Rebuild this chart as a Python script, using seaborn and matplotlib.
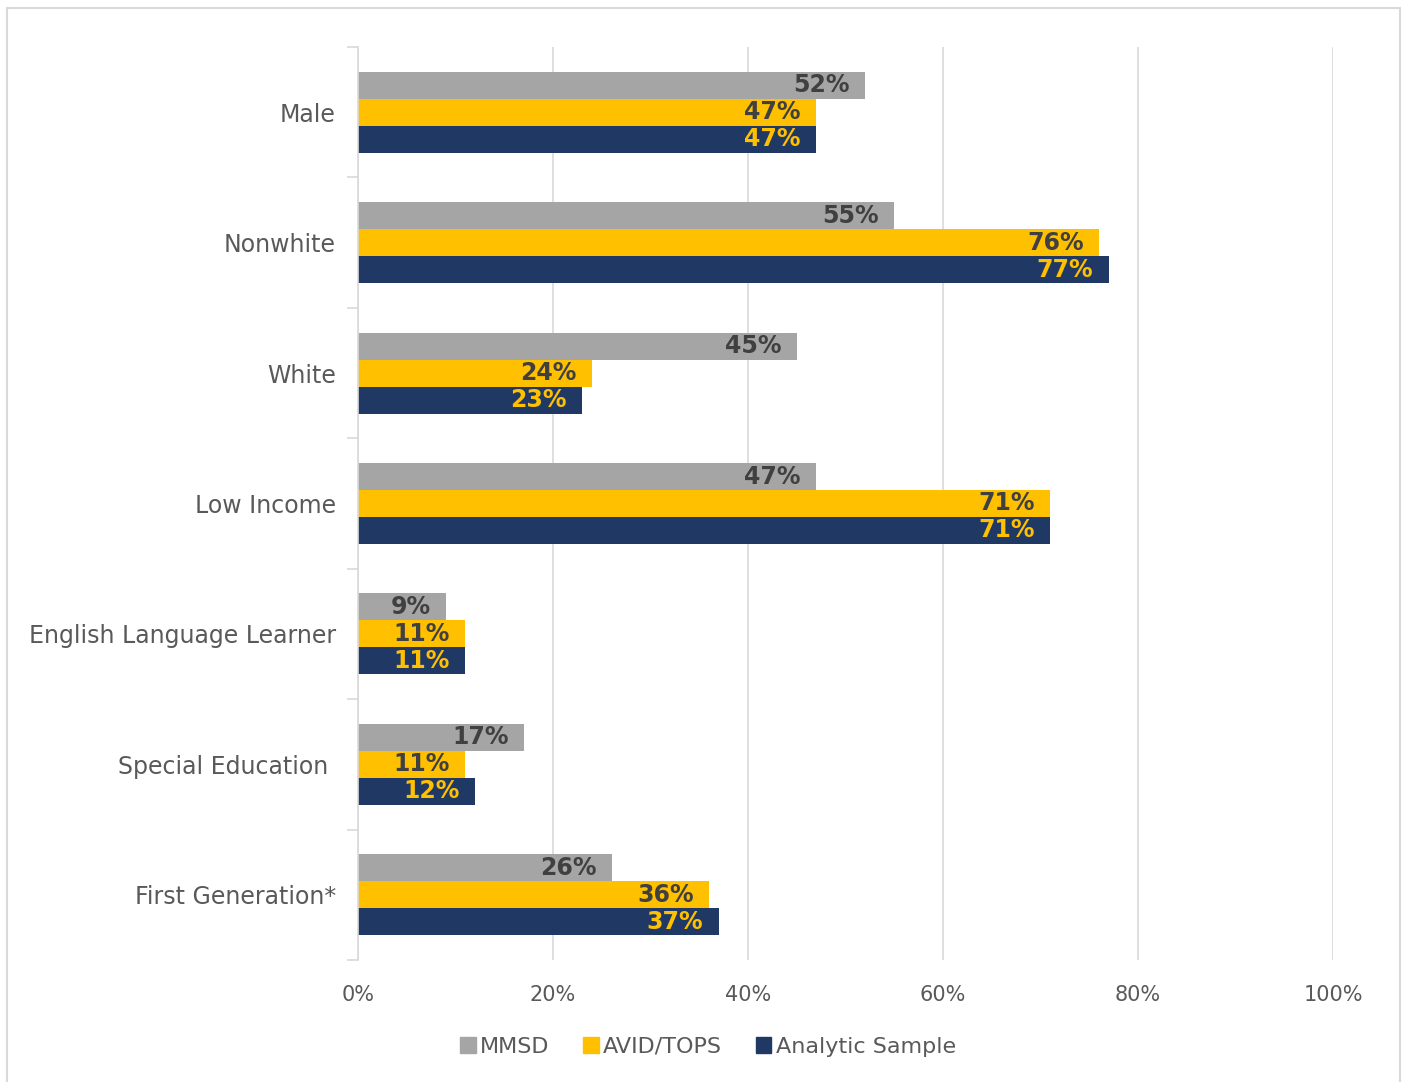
import matplotlib
matplotlib.use("Agg")
import matplotlib.pyplot as plt
import matplotlib.patches as mpatches
import seaborn as sns
import pandas as pd
import numpy as np

categories = ["Male", "Nonwhite", "White", "Low Income", "English Language Learner",
              "Special Education ", "First Generation*"]
series = ["MMSD", "AVID/TOPS", "Analytic Sample"]
mmsd = [52, 55, 45, 47, 9, 17, 26]
avid = [47, 76, 24, 71, 11, 11, 36]
analytic = [47, 77, 23, 71, 11, 12, 37]
x_ticks = [0, 20, 40, 60, 80, 100]

colors = ["#A5A5A5", "#FFC000", "#203864"]
label_colors = ["#404040", "#404040", "#FFC000"]

rows = []
for s, vals in zip(series, [mmsd, avid, analytic]):
    for c, v in zip(categories, vals):
        rows.append({"Category": c, "Series": s, "Value": v})
df = pd.DataFrame(rows)

sns.set_theme(style="white")
plt.rcParams["font.family"] = ["DejaVu Sans"]

fig = plt.figure(figsize=(14.08, 10.82), dpi=100)
ax = fig.add_axes([358 / 1408, 1 - 960 / 1082, (1333 - 358) / 1408, (960 - 47) / 1082])

sns.barplot(data=df, y="Category", x="Value", hue="Series", order=categories,
            hue_order=series, palette=colors, orient="h", width=0.62,
            saturation=1, ax=ax, errorbar=None, legend=False, linewidth=0)

for cont, vals, lc in zip(ax.containers, [mmsd, avid, analytic], label_colors):
    texts = ax.bar_label(cont, labels=[f"{v}%" for v in vals], padding=-11,
                         color=lc, fontsize=17, fontweight="bold")
    for t in texts:
        t.set_ha("right")

ax.set_xlim(0, 100)
ax.set_xticks(x_ticks)
ax.set_xticklabels([f"{t}%" for t in x_ticks], fontsize=15, color="#595959")
ax.tick_params(axis="x", length=0, pad=18)
ax.set_ylim(len(categories) - 0.5, -0.5)
ax.set_yticks(range(len(categories)))
ax.set_yticklabels(categories, fontsize=17, color="#595959")
ax.tick_params(axis="y", which="major", left=False, length=0, pad=16)
ax.set_yticks(np.arange(-0.5, len(categories), 1), minor=True)
ax.tick_params(axis="y", which="minor", left=True, length=8, width=1.2,
               color="#D9D9D9", direction="out")
ax.set_xlabel("")
ax.set_ylabel("")
ax.grid(axis="x", color="#D9D9D9", linewidth=1.2)
ax.set_axisbelow(True)
for s in ["top", "right", "bottom"]:
    ax.spines[s].set_visible(False)
ax.spines["left"].set_color("#D9D9D9")
ax.spines["left"].set_linewidth(1.2)

handles = [mpatches.Patch(color=c, label=s) for c, s in zip(colors, series)]
fig.legend(handles=handles, loc="center", bbox_to_anchor=(708 / 1408, 1 - 1047 / 1082),
           ncol=3, frameon=False, fontsize=16, handlelength=0.7, handleheight=0.7,
           handletextpad=0.2, columnspacing=1.5, labelcolor="#595959")

border = mpatches.Rectangle((7 / 1408, -0.01), (1400 - 7) / 1408, 1.01 - 8 / 1082,
                            transform=fig.transFigure, fill=False,
                            edgecolor="#D9D9D9", linewidth=1.5)
fig.patches.append(border)

fig.savefig("out.png", dpi=100)
